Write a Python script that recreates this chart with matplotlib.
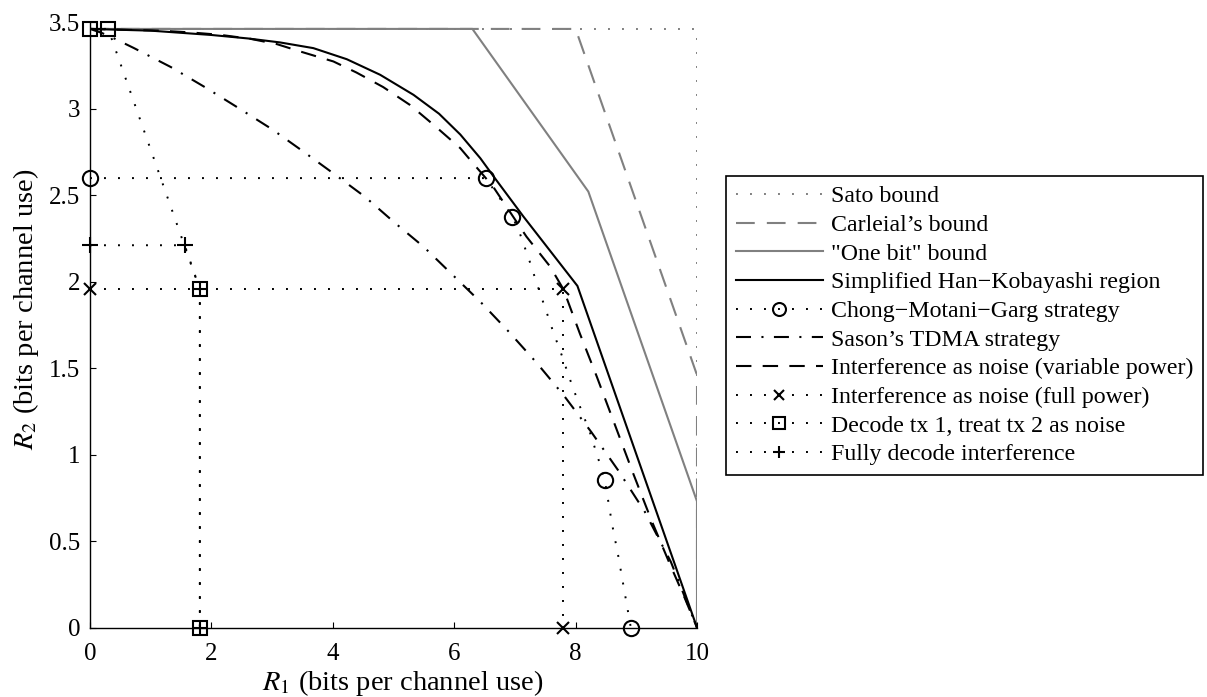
import numpy as np
import matplotlib
matplotlib.use('Agg')
import matplotlib.pyplot as plt

plt.rcParams['font.family'] = ['Liberation Serif', 'DejaVu Serif']
plt.rcParams['mathtext.fontset'] = 'stix'

# rate region boundaries, R1 / R2 in bits per channel use
sato_r1 = [0, 10, 10]
sato_r2 = [3.46, 3.46, 0]

carleial_r1 = [0, 8.0, 10, 10]
carleial_r2 = [3.46, 3.46, 1.46, 0]

onebit_r1 = [0, 6.30, 8.21, 10, 10]
onebit_r2 = [3.46, 3.46, 2.52, 0.73, 0]

hk_r1 = [0, 1.0, 2.0, 2.6, 3.13, 3.68, 4.23, 4.78, 5.33, 5.75, 6.1, 6.43, 6.65, 7.14, 8.03, 10]
hk_r2 = [3.46, 3.45, 3.425, 3.405, 3.382, 3.349, 3.285, 3.195, 3.079, 2.97, 2.85, 2.713, 2.607, 2.376, 1.975, 0]

cmg_r1 = [0, 6.52, 6.96, 7.08, 7.17, 7.25, 7.36, 7.50, 7.63, 7.77, 7.90, 8.03, 8.24, 8.36, 8.48, 8.60, 8.70, 8.80, 8.91]
cmg_r2 = [2.598, 2.598, 2.376, 2.28, 2.19, 2.11, 1.99, 1.846, 1.711, 1.576, 1.442, 1.316, 1.124, 0.992, 0.854, 0.60, 0.42, 0.22, 0]
cmg_marks = [0, 1, 2, 14, 18]

tdma_r1 = [0, 0.17, 0.31, 0.72, 1.33, 1.91, 2.46, 3.00, 3.52, 4.03, 4.53, 5.02, 5.50, 5.97, 6.44, 6.90, 7.36, 7.81, 8.26, 8.70, 9.14, 9.57, 10]
tdma_r2 = [3.46, 3.44, 3.42, 3.35, 3.24, 3.12, 3.00, 2.88, 2.75, 2.62, 2.49, 2.34, 2.20, 2.04, 1.88, 1.71, 1.53, 1.34, 1.13, 0.91, 0.67, 0.38, 0]

var_r1 = [0, 1.15, 1.65, 2.14, 2.64, 3.08, 3.46, 4.01, 4.39, 4.83, 5.27, 5.66, 6.10, 6.31, 6.64, 7.19, 7.58, 7.80, 8.07, 8.35, 8.65, 8.95, 9.25, 9.55, 9.80, 10]
var_r2 = [3.46, 3.45, 3.44, 3.426, 3.403, 3.372, 3.33, 3.272, 3.208, 3.124, 3.021, 2.906, 2.771, 2.684, 2.549, 2.26, 2.087, 1.955, 1.70, 1.45, 1.17, 0.89, 0.62, 0.37, 0.17, 0]

full_r1 = [0, 7.80, 7.80]
full_r2 = [1.955, 1.955, 0]

dec_r1 = [0, 0.30, 1.81, 1.81]
dec_r2 = [3.46, 3.46, 1.955, 0]

fd_r1 = [0, 1.56, 1.81, 1.81]
fd_r2 = [2.21, 2.21, 1.955, 0]

labels = ['Sato bound',
          'Carleial\u2019s bound',
          '"One bit" bound',
          'Simplified Han\u2212Kobayashi region',
          'Chong\u2212Motani\u2212Garg strategy',
          'Sason\u2019s TDMA strategy',
          'Interference as noise (variable power)',
          'Interference as noise (full power)',
          'Decode tx 1, treat tx 2 as noise',
          'Fully decode interference']

xtick_vals = [0, 2, 4, 6, 8, 10]
ytick_vals = [0, 0.5, 1, 1.5, 2, 2.5, 3, 3.5]
ytick_text = ['0', '0.5', '1', '1.5', '2', '2.5', '3', '3.5']

gray = '#808080'
dot = (0, (1, 6.2))
dot_lw = 1.4

fig = plt.figure(figsize=(12.07, 6.97), dpi=100)
ax = fig.add_axes([90 / 1207, 69.3 / 697, 607 / 1207, 605.7 / 697])

ax.plot(sato_r1, sato_r2, color=gray, lw=dot_lw, ls=dot, label=labels[0])
ax.plot(carleial_r1, carleial_r2, color=gray, lw=1.5, ls=(0, (9, 5.8)), label=labels[1])
ax.plot(onebit_r1, onebit_r2, color=gray, lw=1.5, ls='-', label=labels[2])
ax.plot(hk_r1, hk_r2, color='k', lw=1.5, ls='-', label=labels[3])
ax.plot(cmg_r1, cmg_r2, color='k', lw=dot_lw, ls=dot, marker='o', ms=11, mew=1.5,
        mfc='none', markevery=cmg_marks, label=labels[4], clip_on=False)
ax.plot(tdma_r1, tdma_r2, color='k', lw=1.5, ls=(0, (7.2, 5.0, 1, 5.0)), label=labels[5])
ax.plot(var_r1, var_r2, color='k', lw=1.5, ls=(0, (7.4, 5.4)), label=labels[6])
ax.plot(full_r1, full_r2, color='k', lw=dot_lw, ls=dot, marker='x', ms=8.5, mew=1.5,
        label=labels[7], clip_on=False)
ax.plot(dec_r1, dec_r2, color='k', lw=dot_lw, ls=dot, marker='s', ms=10, mew=1.5,
        mfc='none', label=labels[8], clip_on=False)
ax.plot(fd_r1, fd_r2, color='k', lw=dot_lw, ls=dot, marker='+', ms=11, mew=1.5,
        label=labels[9], clip_on=False)

ax.set_xlim(0, 10)
ax.set_ylim(0, 3.5)
ax.set_xticks(xtick_vals)
ax.set_xticklabels([str(v) for v in xtick_vals])
ax.set_yticks(ytick_vals)
ax.set_yticklabels(ytick_text)
ax.tick_params(direction='in', length=4.5, width=0.8, labelsize=18)
ax.tick_params(axis='x', pad=11)
ax.tick_params(axis='y', pad=7)
ax.spines['top'].set_visible(False)
ax.spines['right'].set_visible(False)
for s in ['left', 'bottom']:
    ax.spines[s].set_linewidth(1.0)

ax.set_xlabel(r'$R_1$ (bits per channel use)', fontsize=20.5, labelpad=2)
ax.set_ylabel(r'$R_2$ (bits per channel use)', fontsize=20.5, labelpad=6)
ax.xaxis.label.set_x(0.515)
ax.yaxis.label.set_y(0.525)

leg = ax.legend(loc='center left', bbox_to_anchor=(725.7 / 1207, 1 - 325.5 / 697),
                bbox_transform=fig.transFigure, fontsize=17.2, frameon=True,
                fancybox=False, framealpha=1, edgecolor='k', borderpad=0.42,
                handlelength=3.64, handletextpad=0.33, labelspacing=0.29,
                numpoints=1, borderaxespad=0, markerscale=0.85)
leg.get_frame().set_linewidth(1.2)

fig.savefig('out.png', dpi=100)
